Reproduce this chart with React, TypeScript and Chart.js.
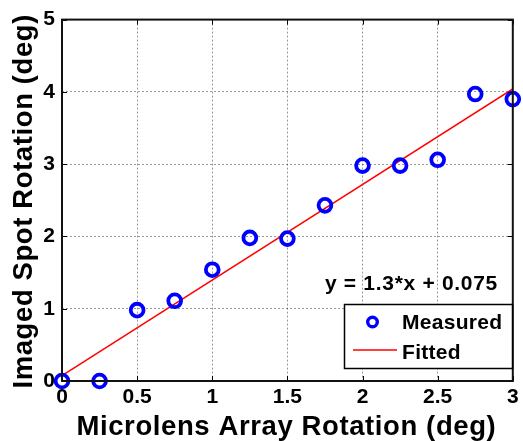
import React, { useEffect, useRef } from "react";
import { Chart, registerables } from "chart.js";

Chart.register(...registerables);

const measuredX = [0, 0.25, 0.5, 0.75, 1.0, 1.25, 1.5, 1.75, 2.0, 2.25, 2.5, 2.75, 3.0];
const measuredY = [0, 0, 0.98, 1.11, 1.54, 1.98, 1.97, 2.43, 2.98, 2.98, 3.06, 3.97, 3.9];
const fitX = [0, 3];
const fitY = [0.075, 4.04];
const xTicks = [0, 0.5, 1, 1.5, 2, 2.5, 3];
const yTicks = [0, 1, 2, 3, 4, 5];
const xTitle = "Microlens Array Rotation (deg)";
const yTitle = "Imaged Spot Rotation (deg)";
const equation = "y = 1.3*x + 0.075";
const legendLabels = ["Measured", "Fitted"];

const FONT = "'Liberation Sans', Arial, sans-serif";

const framePlugin = {
  id: "frame",
  afterDraw(chart: any) {
    const { ctx, chartArea: a, scales } = chart;
    ctx.save();
    // inward ticks
    ctx.strokeStyle = "#000";
    ctx.lineWidth = 1;
    const tl = 5;
    xTicks.forEach((v) => {
      const px = Math.round(scales.x.getPixelForValue(v)) + 0.5;
      ctx.beginPath();
      ctx.moveTo(px, a.bottom);
      ctx.lineTo(px, a.bottom - tl);
      ctx.moveTo(px, a.top);
      ctx.lineTo(px, a.top + tl);
      ctx.stroke();
    });
    yTicks.forEach((v) => {
      const py = Math.round(scales.y.getPixelForValue(v)) + 0.5;
      ctx.beginPath();
      ctx.moveTo(a.left, py);
      ctx.lineTo(a.left + tl, py);
      ctx.moveTo(a.right, py);
      ctx.lineTo(a.right - tl, py);
      ctx.stroke();
    });
    // frame
    ctx.lineWidth = 2;
    ctx.strokeStyle = "#111";
    ctx.strokeRect(a.left, a.top, a.right - a.left, a.bottom - a.top);

    // axis titles
    ctx.fillStyle = "#000";
    ctx.font = `bold 27.5px ${FONT}`;
    (ctx as any).letterSpacing = "0.6px";
    ctx.textAlign = "center";
    ctx.textBaseline = "alphabetic";
    ctx.fillText(xTitle, (a.left + a.right) / 2 - 1, 435);
    ctx.save();
    ctx.translate(32, (a.top + a.bottom) / 2 + 1);
    ctx.rotate(-Math.PI / 2);
    ctx.fillText(yTitle, 0, 0);
    ctx.restore();

    // equation
    ctx.font = `bold 21px ${FONT}`;
    (ctx as any).letterSpacing = "0.7px";
    ctx.textAlign = "right";
    ctx.fillText(equation, 498, 290);

    // legend box
    (ctx as any).letterSpacing = "0.3px";
    const lx = 344, ly = 304, lw = 168, lh = 64;
    ctx.fillStyle = "#fff";
    ctx.fillRect(lx, ly, lw, lh);
    ctx.lineWidth = 1.5;
    ctx.strokeStyle = "#000";
    ctx.strokeRect(lx + 0.5, ly + 0.5, lw, lh);
    // measured marker
    ctx.beginPath();
    ctx.arc(372.5, 322, 4.8, 0, Math.PI * 2);
    ctx.strokeStyle = "#0000ff";
    ctx.lineWidth = 3.4;
    ctx.stroke();
    // fitted line sample
    ctx.beginPath();
    ctx.moveTo(353, 350);
    ctx.lineTo(397, 350);
    ctx.strokeStyle = "#ff0000";
    ctx.lineWidth = 1.5;
    ctx.stroke();
    ctx.fillStyle = "#000";
    ctx.textAlign = "left";
    ctx.font = `bold 21px ${FONT}`;
    ctx.fillText(legendLabels[0], 402, 329);
    ctx.fillText(legendLabels[1], 402, 359);
    ctx.restore();
  },
};

export default function App() {
  const ref = useRef<HTMLCanvasElement>(null);
  useEffect(() => {
    if (!ref.current) return;
    const chart = new Chart(ref.current, {
      type: "scatter",
      data: {
        datasets: [
          {
            label: legendLabels[1],
            type: "line",
            data: fitX.map((x, i) => ({ x, y: fitY[i] })),
            borderColor: "#ff0000",
            borderWidth: 1.5,
            pointRadius: 0,
            fill: false,
            order: 2,
          } as any,
          {
            label: legendLabels[0],
            data: measuredX.map((x, i) => ({ x, y: measuredY[i] })),
            borderColor: "#0000ff",
            backgroundColor: "rgba(0,0,0,0)",
            pointRadius: 6.4,
            pointBorderWidth: 3.8,
            clip: false,
            order: 1,
          } as any,
        ],
      },
      options: {
        animation: false,
        responsive: false,
        layout: { padding: { left: 0, top: 17, right: 8, bottom: 0 } },
        plugins: { legend: { display: false }, tooltip: { enabled: false } },
        scales: {
          x: {
            type: "linear",
            min: 0,
            max: 3,
            afterBuildTicks: (s: any) => {
              s.ticks = xTicks.map((v) => ({ value: v }));
            },
            afterFit: (s: any) => {
              s.height = 60;
            },
            ticks: {
              color: "#000",
              font: { family: FONT, size: 21, weight: "bold" },
              padding: 4,
              maxRotation: 0,
              autoSkip: false,
              callback: (v: any) => String(v),
            },
            grid: { color: "rgba(0,0,0,0.4)", lineWidth: 1, drawTicks: false },
            border: { display: false, dash: [2, 2] },
            title: { display: false },
          },
          y: {
            type: "linear",
            min: 0,
            max: 5,
            afterBuildTicks: (s: any) => {
              s.ticks = yTicks.map((v) => ({ value: v }));
            },
            afterFit: (s: any) => {
              s.width = 62;
            },
            ticks: {
              color: "#000",
              font: { family: FONT, size: 21, weight: "bold" },
              padding: 7,
              autoSkip: false,
              callback: (v: any) => String(v),
            },
            grid: { color: "rgba(0,0,0,0.4)", lineWidth: 1, drawTicks: false },
            border: { display: false, dash: [2, 2] },
            title: { display: false },
          },
        },
      },
      plugins: [framePlugin],
    });
    return () => chart.destroy();
  }, []);
  return (
    <div style={{ position: "fixed", left: 0, top: 0, width: 523, height: 441, background: "#fff" }}>
      <canvas ref={ref} width={523} height={441} />
    </div>
  );
}
